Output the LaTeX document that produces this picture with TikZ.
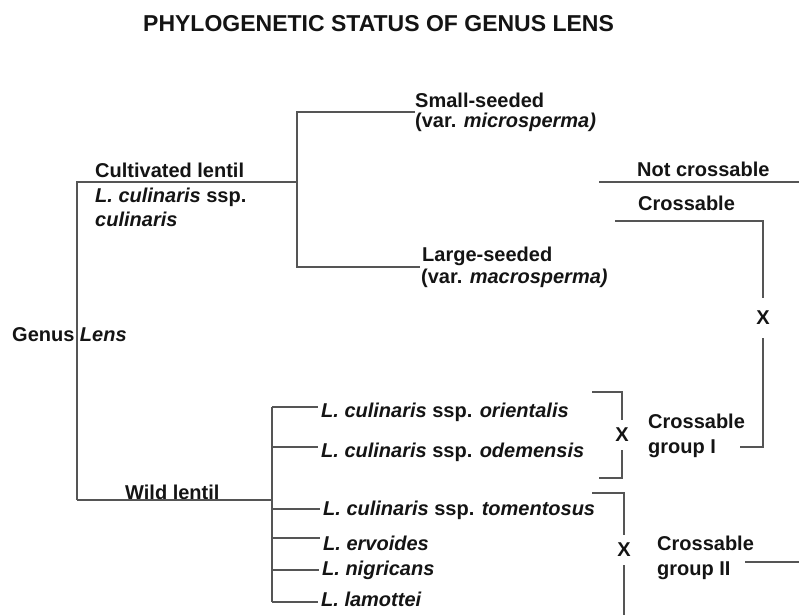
\documentclass[tikz,border=0pt]{standalone}
\usepackage{fontspec}
\setmainfont{Liberation Sans}
\definecolor{linegray}{RGB}{85,85,85}
\definecolor{inkblack}{RGB}{20,20,20}
\tikzset{
  lbl/.style={anchor=base west, inner sep=0pt, text=inkblack,
    font=\fontsize{20}{23}\selectfont\bfseries},
  heading/.style={anchor=base west, inner sep=0pt, text=inkblack,
    font=\fontsize{23}{26}\selectfont\bfseries},
  crossmark/.style={inner xsep=0pt, text=inkblack,
    font=\fontsize{20}{20}\selectfont\bfseries},
  branch/.style={draw=linegray, line width=1.4pt}
}
\begin{document}
\begin{tikzpicture}[x=1pt, y=-1pt]
\useasboundingbox[fill=white] (0,0) rectangle (799,615);

% heading
\node[heading] (title) at (143,32) {PHYLOGENETIC STATUS OF GENUS LENS};

% labels of the cultivated branch
\node[lbl] (genus) at (12,341) {Genus \textit{Lens}};
\node[lbl] (cult1) at (95,177) {Cultivated lentil};
\node[lbl] (cult2) at (95,202) {\textit{L. culinaris} ssp.};
\node[lbl] (cult3) at (95,226) {\textit{culinaris}};
\node[lbl] (small1) at (415,107) {Small-seeded};
\node[lbl] (small2) at (415,128) {(var. \textit{microsperma)}};
\node[lbl] (large1) at (422,261) {Large-seeded};
\node[lbl] (large2) at (421,283) {(var. \textit{macrosperma)}};

% labels of the wild branch
\node[lbl] (wildlbl) at (125,499) {Wild lentil};
\node[lbl] (ori) at (321,417) {\textit{L. culinaris} ssp. \textit{orientalis}};
\node[lbl] (ode) at (321,457) {\textit{L. culinaris} ssp. \textit{odemensis}};
\node[lbl] (tom) at (323,515) {\textit{L. culinaris} ssp. \textit{tomentosus}};
\node[lbl] (erv) at (323,550) {\textit{L. ervoides}};
\node[lbl] (nig) at (322,575) {\textit{L. nigricans}};
\node[lbl] (lam) at (321,606) {\textit{L. lamottei}};

% crossability labels
\node[lbl] (notcross) at (637,176) {Not crossable};
\node[lbl] (cross) at (638,210) {Crossable};
\node[lbl] (grpIa) at (648,428) {Crossable};
\node[lbl] (grpIb) at (648,453) {group I};
\node[lbl] (grpIIa) at (657,550) {Crossable};
\node[lbl] (grpIIb) at (657,575) {group II};

% cross marks
\node[crossmark, inner ysep=13pt] (xtop) at (763,318) {X};
\node[crossmark, inner ysep=8pt] (xone) at (622,435) {X};
\node[crossmark, inner ysep=8pt] (xtwo) at (624,550) {X};

% junctions of the tree
\coordinate (cultJ) at (77,182);
\coordinate (cultR) at (297,182);
\coordinate (smallJ) at (297,112);
\coordinate (largeJ) at (297,267);
\coordinate (wildJ) at (77,500);
\coordinate (wildR) at (272,500);
\coordinate (b1) at (272,407);
\coordinate (b2) at (272,447);
\coordinate (b3) at (272,509);
\coordinate (b4) at (272,538);
\coordinate (b5) at (272,570);
\coordinate (b6) at (272,602);

% corners of the crossability lines
\coordinate (ncL) at (599,182);
\coordinate (ncR) at (799,182);
\coordinate (crL) at (615,221);
\coordinate (crR) at (763,221);
\coordinate (gIcorner) at (763,447);
\coordinate (gIend) at (740,447);
\coordinate (brIa) at (592,392);
\coordinate (brIb) at (622,392);
\coordinate (brIc) at (622,478);
\coordinate (brId) at (599,478);
\coordinate (brIIa) at (592,493);
\coordinate (brIIb) at (624,493);
\coordinate (brIIc) at (624,615);
\coordinate (gIIL) at (745,562);
\coordinate (gIIR) at (799,562);

% cultivated lentil
\draw[branch] (wildJ) -- (cultJ) -- (cultR);
\draw[branch] (small2.north west |- smallJ) -- (smallJ) -- (largeJ) -- ([xshift=-1pt]large2.west |- largeJ);

% wild lentil
\draw[branch] (wildJ) -- (wildR);
\draw[branch] (b1) -- (b6);
\foreach \b/\n in {b1/ori, b2/ode, b3/tom, b4/erv, b5/nig, b6/lam}
  \draw[branch] (\b) -- ([xshift=-3pt]\b -| \n.west);

% crossability
\draw[branch] (ncL) -- (ncR);
\draw[branch] (crL) -- (crR) -- (xtop.north);
\draw[branch] (xtop.south) -- (gIcorner) -- (gIend);
\draw[branch] (brIa) -- (brIb) -- (xone.north);
\draw[branch] (xone.south) -- (brIc) -- (brId);
\draw[branch] (brIIa) -- (brIIb) -- (xtwo.north);
\draw[branch] (xtwo.south) -- (brIIc);
\draw[branch] (gIIL) -- (gIIR);
\end{tikzpicture}
\end{document}
